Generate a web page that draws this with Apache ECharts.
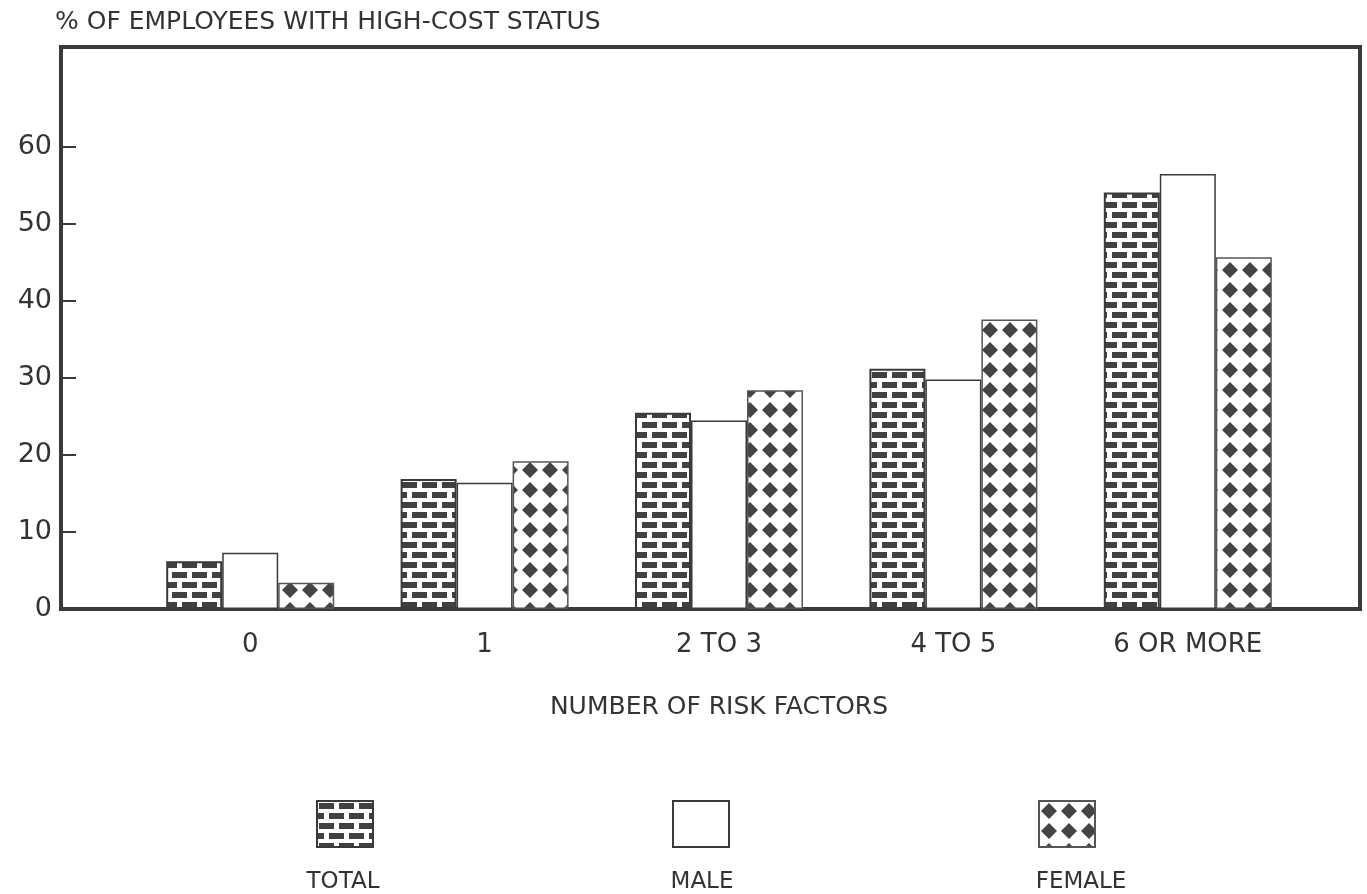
<!DOCTYPE html>
<html>
<head>
<meta charset="utf-8">
<script src="https://cdn.jsdelivr.net/npm/echarts@6/dist/echarts.min.js"></script>
<style>
  html, body { margin: 0; padding: 0; background: #ffffff; }
  #chart { width: 1367px; height: 894px; }
</style>
</head>
<body>
<div id="chart"></div>
<script>
// Share of employees with high-cost status, by number of health risk factors
const categories = ['0', '1', '2 TO 3', '4 TO 5', '6 OR MORE'];
const totalValues = [6.2, 16.9, 25.5, 31.2, 54.1];
const maleValues = [7.3, 16.4, 24.5, 29.8, 56.5];
const femaleValues = [3.4, 19.2, 28.4, 37.6, 45.7];
const yTickValues = [0, 10, 20, 30, 40, 50, 60];
const seriesNames = ['TOTAL', 'MALE', 'FEMALE'];

const INK = '#3a3a3a';
const TEXT = '#333333';
const FONT = 'DejaVu Sans';

// Brick fill: staggered dark bricks with white mortar
function brickPattern() {
  const c = document.createElement('canvas');
  c.width = 20; c.height = 20;
  const g = c.getContext('2d');
  g.fillStyle = '#ffffff';
  g.fillRect(0, 0, 20, 20);
  g.fillStyle = '#404040';
  g.fillRect(2, 2, 15, 6);
  g.fillRect(0, 12, 7, 6);
  g.fillRect(12, 12, 8, 6);
  return { image: c, repeat: 'repeat' };
}

// Diamond fill: dark diamonds on white in a square grid
function diamondPattern() {
  const c = document.createElement('canvas');
  c.width = 20; c.height = 20;
  const g = c.getContext('2d');
  g.fillStyle = '#ffffff';
  g.fillRect(0, 0, 20, 20);
  g.fillStyle = '#444444';
  g.beginPath();
  g.moveTo(10, 2); g.lineTo(18, 10); g.lineTo(10, 18); g.lineTo(2, 10);
  g.closePath();
  g.fill();
  return { image: c, repeat: 'repeat' };
}

const chart = echarts.init(document.getElementById('chart'), null, { renderer: 'canvas' });

const Y_MAX = 73;

function legendFor(name, left) {
  return {
    data: [name],
    left: left,
    top: 800,
    itemWidth: 56,
    itemHeight: 46,
    selectedMode: false,
    icon: 'rect',
    formatter: () => '',
    padding: 0
  };
}

function legendLabel(text, x) {
  return {
    type: 'text', x: x, y: 882,
    style: { text: text, fontFamily: FONT, fontSize: 23, fill: TEXT, align: 'center', verticalAlign: 'middle' }
  };
}

chart.setOption({
  backgroundColor: '#ffffff',
  animation: false,
  grid: [
    { left: 61, right: 7, top: 47, bottom: 285, show: true, borderColor: INK, borderWidth: 4, backgroundColor: 'transparent' },
    { left: 133, right: 62, top: 47, bottom: 285, show: false }
  ],
  xAxis: [
    { gridIndex: 0, type: 'value', min: 0, max: 1, show: false },
    {
      gridIndex: 1,
      type: 'category',
      data: categories,
      axisLine: { show: false },
      axisTick: { show: true, inside: true, alignWithLabel: true, length: 11, lineStyle: { color: INK, width: 1.5 } },
      axisLabel: { margin: 23, fontFamily: FONT, fontSize: 26, color: TEXT },
      name: 'NUMBER OF RISK FACTORS',
      nameLocation: 'middle',
      nameGap: 86,
      nameTextStyle: { fontFamily: FONT, fontSize: 25, color: TEXT }
    }
  ],
  yAxis: [
    {
      gridIndex: 0,
      type: 'value',
      min: 0,
      max: Y_MAX,
      interval: 10,
      axisLine: { show: false },
      splitLine: { show: false },
      axisTick: { show: true, inside: true, length: 15, customValues: yTickValues.slice(1), lineStyle: { color: INK, width: 2 } },
      axisLabel: { margin: 9, customValues: yTickValues, fontFamily: FONT, fontSize: 27, color: TEXT },
      name: '% OF EMPLOYEES WITH HIGH-COST STATUS',
      nameLocation: 'end',
      nameGap: 12,
      nameTextStyle: { align: 'left', padding: [0, 0, 0, -6], fontFamily: FONT, fontSize: 25, color: TEXT }
    },
    { gridIndex: 1, type: 'value', min: 0, max: Y_MAX, show: false }
  ],
  legend: [
    legendFor('TOTAL', 316),
    legendFor('MALE', 672),
    legendFor('FEMALE', 1038)
  ],
  graphic: [
    legendLabel('TOTAL', 343),
    legendLabel('MALE', 702),
    legendLabel('FEMALE', 1081)
  ],
  series: [
    {
      name: seriesNames[0], type: 'bar', xAxisIndex: 1, yAxisIndex: 1,
      data: totalValues, barWidth: 56, barGap: '0%',
      itemStyle: { color: brickPattern(), borderColor: INK, borderWidth: 2 }
    },
    {
      name: seriesNames[1], type: 'bar', xAxisIndex: 1, yAxisIndex: 1,
      data: maleValues, barWidth: 56, barGap: '0%',
      itemStyle: { color: '#ffffff', borderColor: INK, borderWidth: 1.5 }
    },
    {
      name: seriesNames[2], type: 'bar', xAxisIndex: 1, yAxisIndex: 1,
      data: femaleValues, barWidth: 56, barGap: '0%',
      itemStyle: { color: diamondPattern(), borderColor: '#555555', borderWidth: 1.5 }
    }
  ]
});
</script>
</body>
</html>
